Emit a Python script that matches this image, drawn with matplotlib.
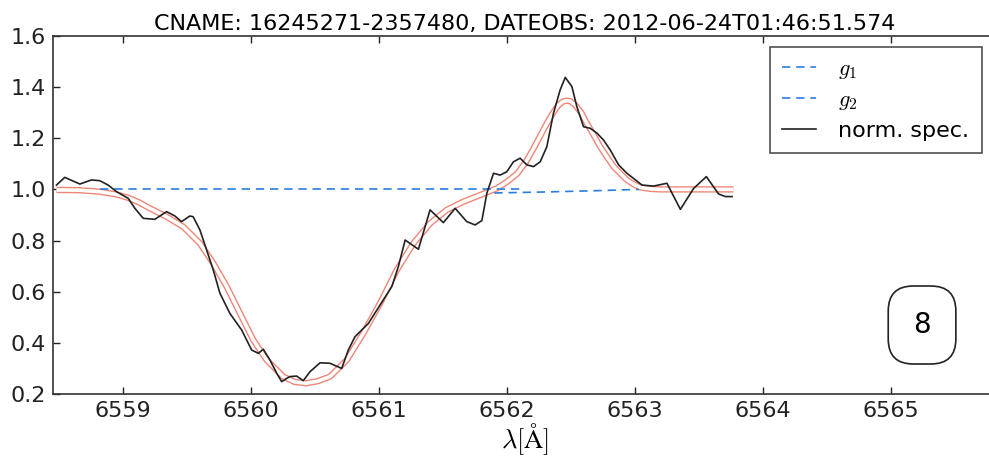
import matplotlib
matplotlib.use("Agg")
import matplotlib.pyplot as plt

plt.rcParams['mathtext.fontset'] = 'cm'
plt.rcParams['font.size'] = 16

# normalised spectrum around H-alpha
wave = [6558.477, 6558.542, 6558.660, 6558.751, 6558.816, 6558.881, 6558.947,
        6559.038, 6559.090, 6559.155, 6559.246, 6559.338, 6559.403, 6559.455,
        6559.520, 6559.546, 6559.599, 6559.651, 6559.703, 6559.755, 6559.833,
        6559.925, 6560.003, 6560.055, 6560.094, 6560.146, 6560.199, 6560.238,
        6560.277, 6560.303, 6560.355, 6560.407, 6560.459, 6560.538, 6560.616,
        6560.707, 6560.759, 6560.811, 6560.916, 6561.007, 6561.099, 6561.150,
        6561.203, 6561.307, 6561.398, 6561.502, 6561.594, 6561.685, 6561.750,
        6561.803, 6561.842, 6561.894, 6561.946, 6561.998, 6562.050, 6562.102,
        6562.155, 6562.207, 6562.259, 6562.311, 6562.363, 6562.415, 6562.455,
        6562.507, 6562.546, 6562.598, 6562.650, 6562.703, 6562.754, 6562.807,
        6562.872, 6562.937, 6562.989, 6563.055, 6563.146, 6563.250, 6563.355,
        6563.459, 6563.558, 6563.654, 6563.707, 6563.759]
flux = [1.017, 1.047, 1.021, 1.037, 1.034, 1.017, 0.991,
        0.965, 0.926, 0.887, 0.883, 0.913, 0.896, 0.874,
        0.896, 0.893, 0.841, 0.763, 0.685, 0.594, 0.515,
        0.450, 0.372, 0.359, 0.375, 0.333, 0.281, 0.248,
        0.261, 0.268, 0.270, 0.252, 0.287, 0.322, 0.320,
        0.300, 0.372, 0.424, 0.476, 0.548, 0.620, 0.698,
        0.802, 0.766, 0.920, 0.870, 0.926, 0.874, 0.861,
        0.878, 0.985, 1.063, 1.056, 1.069, 1.108, 1.122,
        1.096, 1.089, 1.108, 1.167, 1.298, 1.389, 1.438,
        1.402, 1.323, 1.245, 1.239, 1.220, 1.193, 1.154,
        1.096, 1.063, 1.043, 1.017, 1.013, 1.024, 0.922,
        1.004, 1.050, 0.982, 0.972, 0.972]

# two-component fit
fit_wave = [6558.477, 6558.650, 6558.816, 6558.950, 6559.038, 6559.120, 6559.207,
            6559.338, 6559.468, 6559.599, 6559.703, 6559.808, 6559.912, 6560.016,
            6560.120, 6560.250, 6560.340, 6560.430, 6560.520, 6560.616, 6560.747,
            6560.876, 6561.007, 6561.138, 6561.268, 6561.398, 6561.529, 6561.659,
            6561.790, 6561.920, 6562.000, 6562.080, 6562.150, 6562.207, 6562.260,
            6562.311, 6562.360, 6562.402, 6562.435, 6562.465, 6562.495, 6562.533,
            6562.580, 6562.624, 6562.680, 6562.728, 6562.780, 6562.833, 6562.890,
            6562.937, 6562.990, 6563.041, 6563.120, 6563.198, 6563.400, 6563.600,
            6563.770]
fit_flux = [0.998, 0.997, 0.991, 0.980, 0.967, 0.950, 0.926,
            0.893, 0.854, 0.789, 0.711, 0.620, 0.515, 0.411,
            0.333, 0.268, 0.247, 0.242, 0.250, 0.268, 0.333,
            0.437, 0.555, 0.685, 0.789, 0.867, 0.920, 0.952,
            0.978, 1.004, 1.030, 1.062, 1.110, 1.160, 1.210,
            1.258, 1.300, 1.330, 1.343, 1.347, 1.345, 1.330,
            1.300, 1.258, 1.210, 1.167, 1.128, 1.089, 1.060,
            1.037, 1.020, 1.008, 1.002, 1.000, 1.000, 1.000,
            1.000]

# gaussian components
g1_wave = [6558.82, 6560.00, 6561.00, 6562.10]
g1_flux = [1.000, 1.000, 1.000, 1.000]
g2_wave = [6561.90, 6562.30, 6562.70, 6563.03]
g2_flux = [0.986, 0.990, 0.995, 1.000]

fig = plt.figure(figsize=(9.89, 4.57), dpi=100)
# axes run past the right edge of the figure
ax = fig.add_axes([0.0536, 0.1379, 0.9764, 0.7834])

ax.plot(fit_wave, fit_flux, color='#ee8677', lw=4.6, solid_capstyle='butt', zorder=2)
ax.plot(fit_wave, fit_flux, color='white', lw=2.6, solid_capstyle='butt', zorder=2.1)
ax.plot(g1_wave, g1_flux, '--', color='#2b7de0', lw=1.2, dashes=(5, 3.5),
        label='$g_1$', zorder=3)
ax.plot(g2_wave, g2_flux, '--', color='#2b7de0', lw=1.2, dashes=(5, 3.5),
        label='$g_2$', zorder=3)
ax.plot(wave, flux, color='#222222', lw=1.2, label='norm. spec.', zorder=4)

ax.set_xlim(6558.45, 6566.0)
ax.set_ylim(0.2, 1.6)
ax.set_xticks([6559, 6560, 6561, 6562, 6563, 6564, 6565])
ax.set_xticklabels(['6559', '6560', '6561', '6562', '6563', '6564', '6565'])
ax.set_yticks([0.2, 0.4, 0.6, 0.8, 1.0, 1.2, 1.4, 1.6])
ax.tick_params(direction='in', top=True, right=False, length=5, width=1,
               labelsize=16, pad=5, colors='#222222')
ax.spines['right'].set_visible(False)
for sp in ax.spines.values():
    sp.set_color('#333333')
    sp.set_linewidth(1.2)

ax.set_title('CNAME: 16245271-2357480, DATEOBS: 2012-06-24T01:46:51.574',
             fontsize=16, pad=4, x=0.4888)
ax.set_xlabel(r'$\lambda[\mathrm{\AA}]$', fontsize=19, labelpad=0, x=0.4888)

leg = ax.legend(loc='upper right', bbox_to_anchor=(0.9926, 0.898),
                bbox_transform=fig.transFigure, borderaxespad=0,
                fancybox=False, fontsize=16, handlelength=1.55,
                labelspacing=0.4, borderpad=0.55, handletextpad=1.0)
leg.get_frame().set_edgecolor('#222222')
leg.get_frame().set_linewidth(1.2)

fig.text(0.9323, 1 - 325 / 457, '8', fontsize=20, ha='center', va='center',
         bbox=dict(boxstyle='round,pad=0.9', fc='white', ec='#222222', lw=1.2))

fig.savefig('out.png', dpi=100)
